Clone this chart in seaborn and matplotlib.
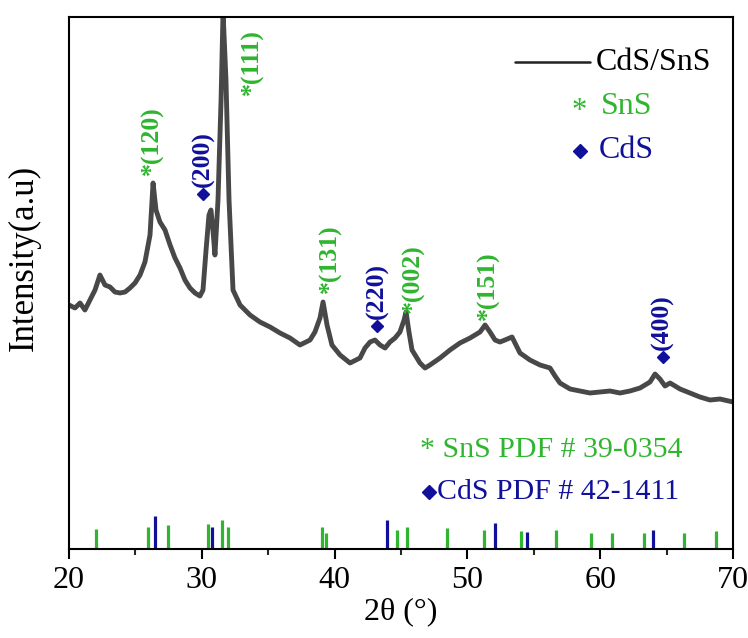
import matplotlib
matplotlib.use("Agg")
import matplotlib.pyplot as plt
from matplotlib.ticker import MultipleLocator
import seaborn as sns
import pandas as pd

# ---- measured XRD curve (2theta in degrees, intensity a.u.) ----
two_theta = [20.00, 20.45, 20.83, 21.20, 21.58, 21.96, 22.33, 22.71, 23.09, 23.46,
             23.84, 24.22, 24.59, 24.97, 25.35, 25.72, 26.10, 26.33, 26.55, 26.85,
             27.23, 27.61, 27.98, 28.36, 28.73, 29.11, 29.49, 29.86, 30.09, 30.32,
             30.54, 30.69, 30.84, 30.99, 31.22, 31.45, 31.60, 31.82, 32.05, 32.35,
             32.88, 33.63, 34.38, 35.14, 35.89, 36.64, 37.39, 38.15, 38.52, 38.90,
             39.13, 39.43, 39.80, 40.41, 41.16, 41.91, 42.29, 42.67, 43.04, 43.42,
             43.80, 44.17, 44.55, 44.92, 45.23, 45.38, 45.60, 45.83, 46.43, 46.81,
             47.18, 47.94, 48.69, 49.44, 50.20, 50.95, 51.33, 51.70, 52.08, 52.45,
             52.83, 53.36, 53.96, 54.71, 55.47, 56.22, 56.60, 56.97, 57.73, 58.48,
             59.23, 59.98, 60.74, 61.49, 62.24, 63.00, 63.75, 64.13, 64.50, 64.88,
             65.26, 66.01, 66.76, 67.51, 68.27, 69.02, 70.00]
intensity = [244, 241, 246, 239, 249, 259, 274, 264, 262, 257,
             256, 257, 261, 266, 274, 287, 314, 366, 339, 327,
             319, 304, 291, 281, 269, 261, 256, 253, 259, 299,
             334, 339, 319, 294, 349, 449, 537, 469, 349, 259,
             244, 234, 227, 222, 216, 211, 204, 209, 217, 231,
             247, 224, 204, 194, 186, 191, 201, 207, 209, 204,
             201, 207, 211, 217, 229, 237, 217, 199, 186, 181,
             184, 191, 199, 206, 211, 217, 224, 217, 209, 207,
             209, 212, 196, 189, 184, 181, 173, 166, 160, 158,
             156, 157, 158, 156, 158, 161, 167, 175, 170, 163,
             166, 160, 156, 152, 149, 150, 147]

# ---- reference patterns (stick positions / heights) ----
sns_pos = [22.03, 25.97, 27.48, 30.44, 31.55, 31.97, 39.03, 39.33, 44.67, 45.48,
           48.49, 51.27, 54.04, 56.65, 59.31, 60.89, 63.32, 66.31, 68.72]
sns_h = [20, 22, 24, 25, 29, 22, 22, 16, 19, 22,
         21, 19, 18, 19, 16, 16, 16, 16, 18]
cds_pos = [26.50, 30.79, 43.92, 52.08, 54.51, 64.00]
cds_h = [33, 22, 29, 26, 17, 19]

# ---- peak labels ----
sns_labels = ["(120)", "(111)", "(131)", "(002)", "(151)"]
sns_lab_x = [26.25, 33.78, 39.65, 45.90, 51.60]
sns_lab_y = [374, 454, 256, 236, 229]
cds_labels = ["(200)", "(220)", "(400)"]
cds_lab_x = [30.09, 43.20, 64.70]
cds_lab_y = [349, 217, 186]

GREEN = "#2fb52f"
BLUE = "#10109a"
GRAY = "#484848"

sns.set_theme(style="ticks")
plt.rcParams["font.family"] = ["Liberation Serif", "DejaVu Sans"]

fig = plt.figure(figsize=(7.48, 6.38), dpi=100)
ax = fig.add_axes([69 / 748, 1 - 549 / 638, (733 - 69) / 748, (549 - 17) / 638])

df = pd.DataFrame({"2theta": two_theta, "I": intensity})
sns.lineplot(data=df, x="2theta", y="I", ax=ax, color=GRAY, lw=3.5,
             estimator=None, sort=False)

ax.vlines(sns_pos, 0, sns_h, color=GREEN, lw=2.3)
ax.vlines(cds_pos, 0, cds_h, color=BLUE, lw=2.3)

for t, x, y in zip(sns_labels, sns_lab_x, sns_lab_y):
    ax.text(x, y, "*" + t, rotation=90, ha="center", va="bottom", color=GREEN,
            fontsize=18.5, fontweight="bold")
for t, x, y in zip(cds_labels, cds_lab_x, cds_lab_y):
    ax.plot([x], [y + 6], marker="D", ms=6.3, color=BLUE, mec=BLUE, ls="none")
    ax.text(x, y + 13, t, rotation=90, ha="center", va="bottom", color=BLUE,
            fontsize=18.5, fontweight="bold")

ax.set_xlim(20, 70)
ax.set_ylim(0, 532)
ax.set_yticks([])
ax.xaxis.set_major_locator(MultipleLocator(10))
ax.xaxis.set_minor_locator(MultipleLocator(5))
ax.tick_params(axis="x", which="major", direction="out", length=7, width=1.5,
               labelsize=23, pad=5, colors="black")
ax.tick_params(axis="x", which="minor", direction="out", length=4, width=1.5)
for s in ax.spines.values():
    s.set_visible(True)
    s.set_linewidth(1.5)
    s.set_color("black")

ax.set_xlabel("2\u03b8 (\u00b0)", fontsize=23, labelpad=2, color="black")
ax.set_ylabel("Intensity(a.u)", fontsize=25, color="black")
ax.yaxis.set_label_coords((41 - 69) / 664, (549 - 258) / 532)

def fx(px):
    return (px - 69) / 664

def fy(py):
    return (549 - py) / 532

# legend-like annotations (axes fractions)
ax.plot([fx(515), fx(590)], [fy(62)] * 2, transform=ax.transAxes, color="#222222", lw=1.8)
ax.text(fx(596), fy(62), "CdS/SnS", transform=ax.transAxes,
        ha="left", va="center", fontsize=23, color="black")
ax.text(fx(579), fy(111), "*", transform=ax.transAxes,
        ha="center", va="center", fontsize=22, color=GREEN)
ax.text(fx(601), fy(106), "SnS", transform=ax.transAxes,
        ha="left", va="center", fontsize=23, color=GREEN)
ax.plot([fx(580)], [fy(151)], transform=ax.transAxes, marker="D", ms=7.5,
        color=BLUE, mec=BLUE, ls="none")
ax.text(fx(599), fy(150), "CdS", transform=ax.transAxes,
        ha="left", va="center", fontsize=23, color=BLUE)

ax.text(fx(420), fy(450), "* SnS PDF # 39-0354", transform=ax.transAxes,
        ha="left", va="center", fontsize=21.5, color=GREEN)
ax.plot([fx(429)], [fy(492)], transform=ax.transAxes, marker="D", ms=7,
        color=BLUE, mec=BLUE, ls="none")
ax.text(fx(437), fy(492), "CdS PDF # 42-1411", transform=ax.transAxes,
        ha="left", va="center", fontsize=21.5, color=BLUE)

fig.savefig("out.png", dpi=100, facecolor="white")
